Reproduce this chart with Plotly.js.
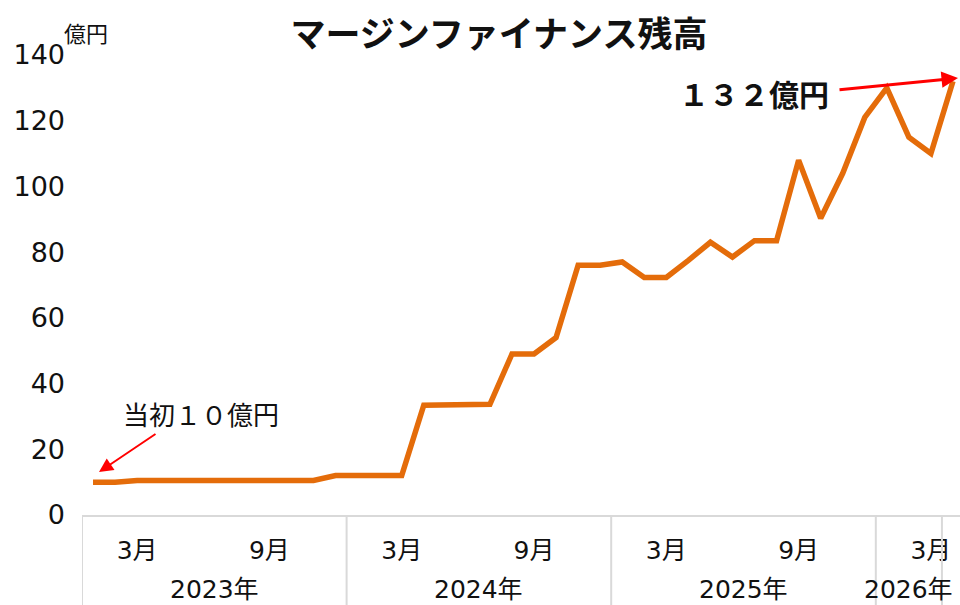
<!DOCTYPE html>
<html>
<head>
<meta charset="utf-8">
<script src="https://cdn.plot.ly/plotly-3.0.1.min.js"></script>
<style>
  html, body { margin: 0; padding: 0; background: #fff; }
  #grafico { width: 960px; height: 605px; }
</style>
</head>
<body>
<div id="grafico"></div>
<script>
// 年ラベルと月ラベル
const years = ['2023年', '2024年', '2025年', '2026年'];
const monthTicks = ['3月', '9月'];

// マージンファイナンス残高 (億円), 2023年1月〜2026年4月
const values = [
    10, 10, 10.5, 10.5, 10.5, 10.5, 10.5, 10.5, 10.5, 10.5, 10.5, 12,
    12, 12, 12, 33.4, 33.5, 33.6, 33.7, 49, 49, 54, 76, 76,
    77, 72.3, 72.3, 77.5, 83, 78.5, 83.5, 83.5, 108, 90.3, 104, 121,
    130, 115, 110, 132
];

const FONT = "'DejaVu Sans', 'Noto Sans CJK JP', sans-serif";
const CJK = "'Noto Sans CJK JP', sans-serif";

const xIdx = values.map((v, i) => i);

// 3月・9月の目盛り
const tickvals = [];
const ticktext = [];
xIdx.forEach(i => {
    const m = (i % 12) + 1;
    if (m === 3) { tickvals.push(i); ticktext.push(monthTicks[0]); }
    if (m === 9) { tickvals.push(i); ticktext.push(monthTicks[1]); }
});

// 年の区切り線と年ラベル
const shapes = [];
const annotations = [];
const gridColor = '#d9d9d9';
const bounds = [-0.5, 11.5, 23.5, 35.5, 38.5];
bounds.forEach(b => {
    shapes.push({
        type: 'line', xref: 'x', yref: 'paper',
        x0: b, x1: b, y0: 0, y1: -0.2,
        line: { color: gridColor, width: 2 }
    });
});
const yearCenters = [5.5, 17.5, 29.5, 37];
years.forEach((y, k) => {
    annotations.push({
        text: y, xref: 'x', yref: 'paper',
        x: yearCenters[k], y: -0.163,
        showarrow: false, xanchor: 'center', yanchor: 'middle',
        font: { family: FONT, size: 25, color: '#111' }
    });
});

// ピクセル座標 → paper座標
const L = 82, R = 960, T = 55, B = 515;
const px = x => (x - L) / (R - L);
const py = y => (B - y) / (B - T);

annotations.push(
    {
        text: '億円', xref: 'paper', yref: 'paper',
        x: px(86), y: py(32), showarrow: false,
        xanchor: 'center', yanchor: 'middle',
        font: { family: CJK, size: 22, color: '#111' }
    },
    {
        text: '当初１０億円', xref: 'paper', yref: 'paper',
        x: px(201), y: py(413), showarrow: false,
        xanchor: 'center', yanchor: 'middle',
        font: { family: CJK, size: 26, color: '#111' }
    },
    {
        text: '<b>１３２億円</b>', xref: 'paper', yref: 'paper',
        x: px(754), y: py(93), showarrow: false,
        xanchor: 'center', yanchor: 'middle',
        font: { family: CJK, size: 30, color: '#111' }
    },
    {
        text: '', xref: 'paper', yref: 'paper',
        x: px(958), y: py(78), ax: -120, ay: 12,
        showarrow: true, arrowhead: 2, arrowsize: 1.1, arrowwidth: 3,
        arrowcolor: '#ff0000'
    },
    {
        text: '', xref: 'paper', yref: 'paper',
        x: px(99), y: py(472), ax: 58, ay: -39,
        showarrow: true, arrowhead: 2, arrowsize: 1.4, arrowwidth: 2,
        arrowcolor: '#ff0000'
    }
);

const data = [{
    x: xIdx,
    y: values,
    type: 'scatter',
    mode: 'lines',
    line: { color: '#e46c0a', width: 5.5 },
    hoverinfo: 'skip'
}];

const layout = {
    width: 960,
    height: 605,
    margin: { l: L, r: 960 - R, t: T, b: 605 - B },
    paper_bgcolor: '#ffffff',
    plot_bgcolor: '#ffffff',
    showlegend: false,
    title: {
        text: '<b>マージンファイナンス残高</b>',
        xref: 'container', x: 499 / 960,
        yref: 'container', y: 1 - 35 / 605,
        xanchor: 'center', yanchor: 'middle',
        font: { family: CJK, size: 35, color: '#111' }
    },
    xaxis: {
        range: [-0.5, 39.5 - 4 / 22.08],
        tickvals: tickvals,
        ticktext: ticktext,
        tickfont: { family: FONT, size: 25, color: '#111' },
        ticklabelstandoff: 12,
        showgrid: false,
        zeroline: false,
        showline: true,
        linecolor: gridColor,
        linewidth: 2,
        ticks: ''
    },
    yaxis: {
        range: [0, 140],
        dtick: 20,
        tickfont: { family: FONT, size: 27, color: '#111' },
        ticklabelstandoff: 16,
        showgrid: false,
        zeroline: false,
        showline: false,
        ticks: ''
    },
    shapes: shapes,
    annotations: annotations
};

Plotly.newPlot('grafico', data, layout, { displayModeBar: false, staticPlot: true });
</script>
</body>
</html>
